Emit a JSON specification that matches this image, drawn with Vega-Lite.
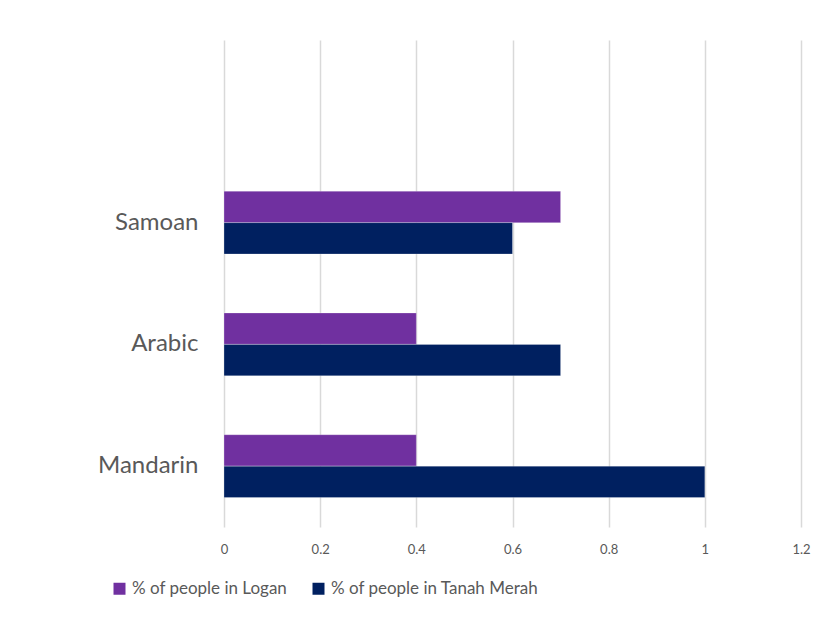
{
  "$schema": "https://vega.github.io/schema/vega-lite/v6.json",
  "autosize": {"type": "none"},
  "padding": {"left": 224, "top": 40, "right": 29, "bottom": 92},
  "width": 577,
  "height": 487,
  "background": "white",
  "config": {
    "view": {"stroke": null},
    "font": "Lato",
    "axis": {"labelColor": "#595959", "domain": false, "ticks": false}
  },
  "data": {
    "values": [
      {"language": "Samoan", "series": "% of people in Logan", "value": 0.7},
      {"language": "Samoan", "series": "% of people in Tanah Merah", "value": 0.6},
      {"language": "Arabic", "series": "% of people in Logan", "value": 0.4},
      {"language": "Arabic", "series": "% of people in Tanah Merah", "value": 0.7},
      {"language": "Mandarin", "series": "% of people in Logan", "value": 0.4},
      {"language": "Mandarin", "series": "% of people in Tanah Merah", "value": 1.0}
    ]
  },
  "mark": {"type": "bar", "stroke": "white", "strokeWidth": 0.5, "strokeOpacity": 0.5},
  "encoding": {
    "y": {
      "field": "language",
      "type": "nominal",
      "scale": {"domain": [" ", "Samoan", "Arabic", "Mandarin"], "paddingInner": 0.484, "paddingOuter": 0.242},
      "axis": {"title": null, "labelFontSize": 24, "labelPadding": 26, "grid": false}
    },
    "yOffset": {
      "field": "series",
      "type": "nominal",
      "scale": {"domain": ["% of people in Logan", "% of people in Tanah Merah"], "paddingInner": 0, "paddingOuter": 0}
    },
    "x": {
      "field": "value",
      "type": "quantitative",
      "scale": {"domain": [0, 1.2], "nice": false, "zero": true},
      "axis": {
        "title": null,
        "values": [0, 0.2, 0.4, 0.6, 0.8, 1, 1.2],
        "format": "~g",
        "labelFontSize": 13,
        "labelPadding": 16,
        "grid": true,
        "gridColor": "#d9d9d9",
        "gridWidth": 1.5,
        "labelFlush": false
      }
    },
    "color": {
      "field": "series",
      "type": "nominal",
      "scale": {"domain": ["% of people in Logan", "% of people in Tanah Merah"], "range": ["#7030A0", "#002060"]},
      "legend": {
        "title": null,
        "orient": "none",
        "direction": "horizontal",
        "legendX": -113,
        "legendY": 540,
        "symbolType": "square",
        "symbolSize": 144,
        "symbolStrokeWidth": 0,
        "labelFontSize": 17,
        "labelColor": "#595959",
        "labelOffset": 4,
        "columnPadding": 22,
        "labelLimit": 400
      }
    }
  }
}
